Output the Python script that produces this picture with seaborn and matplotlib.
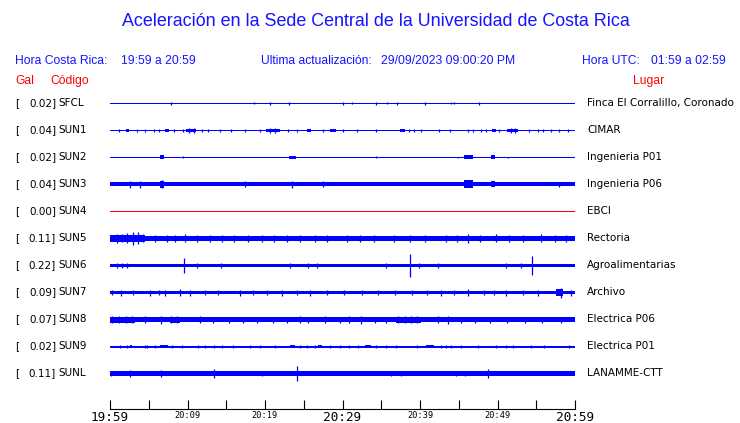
import matplotlib
matplotlib.use("Agg")
import matplotlib.pyplot as plt
import seaborn as sns

# ---------------- data ----------------
codes = ["SFCL", "SUN1", "SUN2", "SUN3", "SUN4", "SUN5", "SUN6", "SUN7", "SUN8", "SUN9", "SUNL"]
peak_gal = ["0.02", "0.04", "0.02", "0.04", "0.00", "0.11", "0.22", "0.09", "0.07", "0.02", "0.11"]
places = ["Finca El Corralillo, Coronado", "CIMAR", "Ingenieria P01", "Ingenieria P06", "EBCI",
          "Rectoria", "Agroalimentarias", "Archivo", "Electrica P06", "Electrica P01", "LANAMME-CTT"]
trace_colors = ["#0000ff", "#0000ff", "#0000ff", "#0000ff", "#ff0000", "#0000ff",
                "#0000ff", "#0000ff", "#0000ff", "#0000ff", "#0000ff"]

# minutes after 19:59 (local time)
tick_minutes = [0, 5, 10, 15, 20, 25, 30, 35, 40, 45, 50, 55, 60]
tick_labels = ["19:59", "", "20:09", "", "20:19", "", "20:29", "", "20:39", "", "20:49", "", "20:59"]
big_labels = ["19:59", "20:29", "20:59"]

# background (noise) half-amplitude of each trace, relative units
base_amp = [0.6, 0.6, 0.6, 2.0, 0.6, 2.7, 1.7, 1.9, 2.1, 0.6, 2.0]

# spikes: (minute, half-amplitude)
spikes_SFCL = [(7.9, 1.5), (18.6, 1.0), (20.7, 1.5), (23.1, 1.5), (30.0, 1.5), (31.2, 1.0),
               (34.3, 1.5), (35.8, 1.0), (37.0, 1.5), (40.7, 1.5), (44.0, 1.0), (44.4, 1.0), (47.6, 1.5)]
spikes_SUN1 = [(1.16, 1.5), (3.49, 1.5), (4.53, 1.5), (5.69, 1.5), (6.34, 1.5), (8.28, 1.5), (9.44, 1.5),
               (11.9, 1.5), (12.67, 1.5), (14.22, 1.5), (15.65, 1.5), (17.46, 1.5), (19.4, 1.5),
               (23.02, 1.5), (24.18, 1.5), (27.54, 1.5), (30.0, 1.5), (31.81, 1.5), (34.27, 1.5),
               (38.54, 1.5), (39.18, 1.5), (40.09, 1.5), (42.41, 1.5), (43.84, 1.5), (46.17, 1.5),
               (46.81, 1.5), (47.85, 1.5), (48.5, 1.5), (50.17, 1.5), (54.05, 1.5), (55.22, 1.5),
               (55.86, 1.5), (56.9, 1.5), (57.93, 1.5), (59.1, 1.5),
               (10.2, 2.5), (10.8, 2.5), (20.6, 2.5), (21.3, 2.5), (51.7, 2.5), (52.2, 2.5)]
spikes_SUN2 = [(9.44, 1.0), (34.27, 1.0), (44.87, 0.8), (51.34, 0.8)]
spikes_SUN3 = [(2.59, 3.5), (3.88, 3.5), (6.72, 4.0), (17.46, 3.0), (23.54, 3.5), (27.54, 3.0), (57.93, 2.5)]
spikes_SUN4 = []
spikes_SUN5 = [(0.9, 4.5), (1.6, 4.0), (2.2, 5.0), (2.97, 6.5), (3.62, 6.0), (4.2, 4.0), (5.8, 3.5),
               (7.3, 3.5), (8.4, 3.5), (9.7, 4.0), (11.2, 3.5), (12.9, 3.5), (14.5, 3.5), (16.0, 3.5),
               (17.8, 3.5), (19.6, 3.5), (21.2, 3.5), (22.8, 3.5), (24.57, 3.5), (26.4, 3.5),
               (28.0, 3.5), (30.6, 3.5), (32.3, 3.5), (34.0, 3.5), (36.6, 3.5), (38.7, 3.5),
               (40.6, 3.5), (43.3, 3.5), (44.8, 3.5), (46.17, 4.5), (47.8, 3.5), (49.79, 4.0),
               (51.5, 3.5), (53.3, 3.5), (55.6, 4.0), (57.4, 3.5), (58.8, 3.5)]
spikes_SUN6 = [(0.9, 3.0), (1.55, 2.5), (2.2, 2.5), (9.57, 8.0), (11.25, 2.5), (14.35, 3.0),
               (23.28, 2.5), (25.6, 2.5), (26.77, 2.5), (35.56, 2.5), (38.66, 11.5), (39.83, 2.5),
               (42.3, 2.5), (51.1, 2.5), (53.0, 2.5), (54.44, 9.5)]
spikes_SUN7 = [(0.2, 2.8), (1.42, 3.0), (3.0, 2.8), (5.17, 3.0), (6.3, 2.8), (7.11, 3.0), (9.05, 3.5),
               (10.35, 3.0), (12.2, 2.8), (13.9, 2.8), (16.8, 3.0), (18.5, 2.8), (20.3, 2.8),
               (22.24, 3.0), (24.1, 2.8), (25.86, 3.0), (28.0, 2.8), (30.2, 2.8), (32.5, 2.8),
               (34.6, 2.8), (36.8, 2.8), (39.0, 2.8), (40.9, 2.8), (42.67, 3.0), (44.4, 2.8),
               (46.17, 3.5), (48.2, 2.8), (49.6, 2.8), (51.08, 3.0), (53.3, 2.8), (55.2, 3.0),
               (58.19, 5.0), (59.5, 3.0)]
spikes_SUN8 = [(0.3, 3.5), (1.2, 3.5), (2.0, 3.8), (2.8, 3.5), (4.53, 3.5), (6.6, 4.0), (7.9, 3.5),
               (8.6, 3.5), (11.64, 3.5), (13.3, 3.0), (15.4, 3.0), (17.2, 3.0), (19.0, 3.0),
               (21.0, 3.0), (22.8, 3.0), (24.57, 3.5), (25.6, 3.0), (27.8, 3.5), (29.7, 3.0),
               (30.8, 3.5), (32.33, 4.0), (34.2, 3.0), (35.6, 3.0), (37.2, 3.5), (38.0, 3.5),
               (38.8, 3.5), (39.6, 3.5), (42.3, 3.5), (43.6, 4.0), (45.3, 3.0), (47.1, 3.0),
               (49.0, 3.0), (51.2, 3.0), (53.6, 3.0), (55.8, 3.0), (58.2, 3.0)]
spikes_SUN9 = [(1.29, 1.5), (2.2, 1.5), (4.53, 1.5), (4.78, 1.5), (5.82, 1.5), (8.02, 1.5), (9.31, 1.5),
               (11.38, 1.5), (12.28, 1.5), (13.45, 1.5), (14.48, 1.5), (15.9, 1.5), (18.1, 1.5),
               (19.4, 1.5), (21.34, 1.5), (24.57, 1.5), (25.47, 1.5), (26.5, 1.5), (28.45, 1.5),
               (29.74, 1.5), (30.78, 1.5), (31.94, 1.5), (34.27, 1.5), (35.56, 1.5), (36.86, 1.5),
               (39.57, 1.5), (42.67, 1.5), (43.32, 1.5), (43.97, 1.5), (45.26, 1.5), (47.46, 1.5),
               (49.79, 1.5), (51.08, 1.5), (51.98, 1.5), (54.3, 1.5), (56.0, 1.5), (59.2, 1.5)]
spikes_SUNL = [(0.13, 3.0), (2.59, 3.5), (6.6, 3.5), (13.45, 4.0), (19.66, 3.0), (24.18, 7.0),
               (36.2, 3.0), (37.5, 3.0), (44.6, 3.0), (45.8, 3.0), (48.75, 4.0)]

# bursts: (start minute, end minute, half-amplitude)
bursts_SFCL = []
bursts_SUN1 = [(2.07, 2.46, 1.8), (7.11, 7.63, 1.8), (9.83, 11.12, 1.8), (20.17, 21.98, 1.8),
               (25.47, 25.99, 1.8), (28.45, 29.22, 1.8), (37.37, 38.02, 1.8), (49.27, 49.79, 1.8),
               (51.21, 52.63, 1.8)]
bursts_SUN2 = [(6.47, 6.98, 2.0), (23.15, 24.05, 1.5), (45.65, 46.81, 2.0), (49.14, 49.66, 2.0)]
bursts_SUN3 = [(6.47, 6.98, 3.5), (45.65, 46.81, 4.0), (49.14, 49.66, 3.0)]
bursts_SUN4 = []
bursts_SUN5 = [(0.0, 4.53, 3.5)]
bursts_SUN6 = []
bursts_SUN7 = [(57.55, 58.45, 3.5)]
bursts_SUN8 = [(0.0, 3.23, 3.0), (7.76, 9.05, 3.0), (36.86, 40.09, 3.0)]
bursts_SUN9 = [(2.59, 2.85, 1.5), (6.47, 7.5, 1.5), (23.28, 23.92, 1.5), (26.9, 27.3, 1.5),
               (32.85, 33.62, 1.5), (40.73, 41.77, 1.5)]
bursts_SUNL = [(23.28, 24.57, 3.0), (40.5, 41.4, 2.5)]

spikes = [spikes_SFCL, spikes_SUN1, spikes_SUN2, spikes_SUN3, spikes_SUN4, spikes_SUN5,
          spikes_SUN6, spikes_SUN7, spikes_SUN8, spikes_SUN9, spikes_SUNL]
bursts = [bursts_SFCL, bursts_SUN1, bursts_SUN2, bursts_SUN3, bursts_SUN4, bursts_SUN5,
          bursts_SUN6, bursts_SUN7, bursts_SUN8, bursts_SUN9, bursts_SUNL]

title = "Aceleración en la Sede Central de la Universidad de Costa Rica"

# ---------------- style ----------------
sns.set_theme(style="white")
plt.rcParams["font.family"] = ["DejaVu Sans"]

W, H = 740, 423
fig = plt.figure(figsize=(W / 100, H / 100), dpi=100)
fig.patch.set_facecolor("white")


def fx(px):
    return px / W


def fy(py):
    return 1 - py / H


ROW_PX = 27.0
AMP = 1 / ROW_PX  # relative amplitude units -> row units
row0_px = 103.5
ax_top_px, ax_bot_px = 90, 409
ax = fig.add_axes([fx(110), fy(ax_bot_px), fx(575) - fx(110), (ax_bot_px - ax_top_px) / H])
ax.set_facecolor("white")
ax.set_xlim(0, 60)
ax.set_ylim((ax_bot_px - row0_px) / ROW_PX, (ax_top_px - row0_px) / ROW_PX)

# baselines of every trace through seaborn, kept underneath the noise bands
for i, code in enumerate(codes):
    sns.lineplot(x=[0, 60], y=[i, i], color=trace_colors[i], linewidth=0.7, ax=ax, zorder=0.5)

for i, code in enumerate(codes):
    c = trace_colors[i]
    y = i
    a = base_amp[i] * AMP
    ax.fill_between([0, 60], y - a, y + a, facecolor=c, edgecolor="none", lw=0, zorder=1)
    for s, e, amp in bursts[i]:
        ax.fill_between([s, e], y - amp * AMP, y + amp * AMP, facecolor=c, edgecolor="none",
                        lw=0, zorder=1)
    if spikes[i]:
        ms = [m for m, _ in spikes[i]]
        am = [v * AMP for _, v in spikes[i]]
        ax.vlines(ms, [y - v for v in am], [y + v for v in am], color=c, lw=0.9, zorder=2)

ax.set_yticks([])
ax.set_ylabel("")
ax.set_xlabel("")
ax.set_xticks(tick_minutes)
ax.set_xticklabels(tick_labels)
for lbl in ax.get_xticklabels():
    lbl.set_family("DejaVu Sans Mono")
    lbl.set_fontsize(9.2 if lbl.get_text() in big_labels else 6.2)
    lbl.set_color("black")
ax.tick_params(axis="x", direction="in", length=6.5, width=0.8, color="black", pad=1.2, bottom=True)
for side in ["left", "top", "right"]:
    ax.spines[side].set_visible(False)
ax.spines["bottom"].set_color("black")
ax.spines["bottom"].set_linewidth(0.8)
ax.grid(False)

# ---------------- texts ----------------
blue = "#1414ff"
red = "#ff0000"
sans = "Liberation Sans"
fig.text(fx(376), fy(22), title, ha="center", va="center", fontsize=12.9, color=blue, family=sans)
hdr = 8.7
fig.text(fx(15), fy(61), "Hora Costa Rica:", ha="left", va="center", fontsize=hdr, color=blue, family=sans)
fig.text(fx(121), fy(61), "19:59 a 20:59", ha="left", va="center", fontsize=hdr, color=blue, family=sans)
fig.text(fx(261), fy(61), "Ultima actualización:", ha="left", va="center", fontsize=hdr, color=blue, family=sans)
fig.text(fx(381), fy(61), "29/09/2023 09:00:20 PM", ha="left", va="center", fontsize=hdr, color=blue, family=sans)
fig.text(fx(582), fy(61), "Hora UTC:", ha="left", va="center", fontsize=hdr, color=blue, family=sans)
fig.text(fx(651), fy(61), "01:59 a 02:59", ha="left", va="center", fontsize=hdr, color=blue, family=sans)
fig.text(fx(15), fy(81), "Gal", ha="left", va="center", fontsize=hdr, color=red, family=sans)
fig.text(fx(50), fy(81), "Código", ha="left", va="center", fontsize=hdr, color=red, family=sans)
fig.text(fx(633), fy(81), "Lugar", ha="left", va="center", fontsize=hdr, color=red, family=sans)

lab = 7.5
for i, code in enumerate(codes):
    ypx = 103 + i * ROW_PX
    fig.text(fx(15), fy(ypx), "[", ha="left", va="center", fontsize=lab, color="black")
    fig.text(fx(56), fy(ypx), peak_gal[i] + "]", ha="right", va="center", fontsize=lab, color="black")
    fig.text(fx(58), fy(ypx), code, ha="left", va="center", fontsize=lab, color="black")
    fig.text(fx(587), fy(ypx), places[i], ha="left", va="center", fontsize=lab, color="black")

fig.savefig("out.png", dpi=100, facecolor="white")
